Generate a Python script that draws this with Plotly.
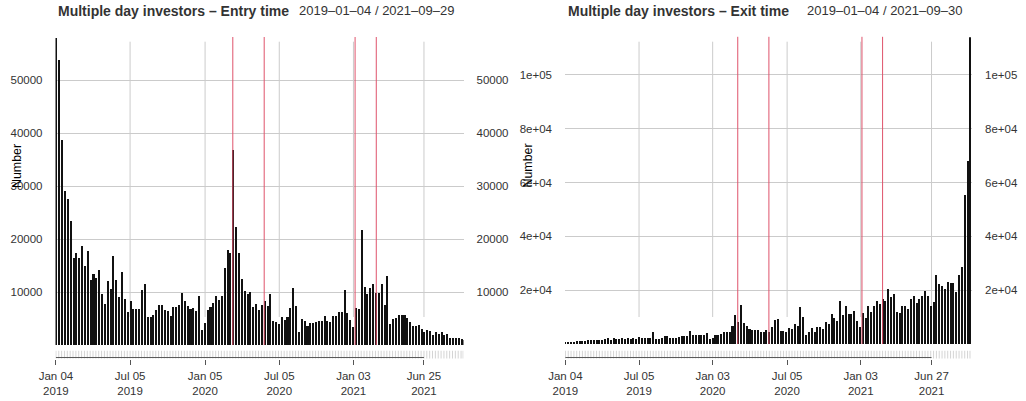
import pandas as pd
import plotly.graph_objects as go

W, H = 1026, 401

# ---------------- data ----------------
entry_dates = list(pd.date_range("2019-01-04", periods=143, freq="7D")) + [pd.Timestamp("2021-09-29")]
exit_dates = list(pd.date_range("2019-01-04", periods=143, freq="7D")) + [pd.Timestamp("2021-09-30")]

entry_values = [
    58100, 54000, 38800, 29200, 27600, 23500, 16600, 17500, 16500, 18800,
    15000, 17800, 12300, 13600, 12800, 14300, 9700, 7900, 12100, 10700,
    17000, 12400, 9200, 13800, 8800, 6400, 8500, 6900, 6900, 6900,
    10400, 11600, 5300, 5300, 5800, 6700, 7700, 7700, 6700, 6600,
    5600, 7200, 7200, 7700, 9900, 8400, 7400, 6900, 7000, 6600,
    9400, 2900, 4200, 6700, 7200, 8100, 9400, 8600, 9400, 14600,
    18100, 17400, 36900, 22300, 17500, 12500, 10300, 9700, 10200, 7200,
    7800, 6700, 7600, 8500, 7500, 9800, 4700, 4500, 4000, 5400,
    4800, 5400, 7000, 10800, 7500, 2600, 5100, 4700, 3600, 4200,
    4200, 4500, 4700, 4700, 5600, 4600, 4400, 5500, 5500, 6300,
    6300, 10400, 6100, 4800, 3500, 7000, 6900, 21800, 11100, 9700,
    10900, 11600, 9900, 10000, 11600, 7600, 13200, 4100, 5000, 5200,
    5700, 5700, 5700, 5200, 4500, 3600, 3600, 3900, 3100, 2600,
    2900, 2800, 1900, 2600, 2100, 2600, 2000, 2200, 1500, 1500,
    1400, 1400, 1200, 1000,
]

exit_values = [
    300, 500, 650, 800, 950, 1050, 1100, 1150, 1200, 1250,
    1300, 1350, 1450, 1550, 1600, 2100, 1350, 2000, 1850, 1850,
    1950, 1700, 1950, 1700, 2300, 1700, 2450, 2100, 2100, 2100,
    2100, 4300, 1700, 1800, 2200, 2700, 2900, 2300, 2200, 2200,
    2600, 2900, 2700, 2800, 4700, 3400, 3300, 3200, 3200, 3400,
    3900, 1800, 2200, 3300, 3400, 3700, 4300, 4500, 4500, 6400,
    10700, 8000, 14500, 7700, 6600, 5400, 5000, 5000, 5000, 4500,
    4200, 5200, 4300, 6300, 8800, 9000, 4900, 4900, 4300, 5900,
    5300, 7300, 6500, 13700, 9800, 3200, 4400, 5800, 4400, 6200,
    6200, 5300, 8000, 7300, 11000, 9500, 8300, 15900, 10700, 14000,
    11100, 11100, 12100, 8300, 6300, 11500, 9500, 14000, 11900, 14100,
    15800, 14700, 16700, 15800, 20400, 17200, 18600, 11900, 11500, 14200,
    14100, 13000, 16500, 17900, 15200, 16500, 17700, 19500, 17700, 14100,
    15400, 25400, 22200, 21500, 20400, 23000, 22500, 22500, 19400, 25400,
    28400, 55300, 68000, 114000,
]

entry_ticks = ["2019-01-04", "2019-07-05", "2020-01-05", "2020-07-05", "2021-01-03", "2021-06-25"]
exit_ticks = ["2019-01-04", "2019-07-05", "2020-01-03", "2020-07-05", "2021-01-03", "2021-06-27"]

entry_events = ["2020-03-13", "2020-05-29", "2021-01-07", "2021-02-28"]
exit_events = ["2020-03-05", "2020-05-21", "2021-01-06", "2021-02-26"]

entry_yticks = [10000, 20000, 30000, 40000, 50000]
entry_ylabels = ["10000", "20000", "30000", "40000", "50000"]
exit_yticks = [20000, 40000, 60000, 80000, 100000]
exit_ylabels = ["2e+04", "4e+04", "6e+04", "8e+04", "1e+05"]

# ---------------- style ----------------
FONT = "Liberation Sans, Arial, Helvetica, sans-serif"
GRID = "#cbcbcb"
BAR = "#111111"
RED = "#DF536B"
AXIS = "#555555"
TXT = "#333333"
DAY_MS = 86400000


def fx(p):
    return p / W


def fy(p):
    return 1 - p / H


fig = go.Figure()
shapes = []
annotations = []

panels = [
    dict(dates=entry_dates, values=entry_values, ticks=entry_ticks, events=entry_events,
         yt=entry_yticks, yl=entry_ylabels, x0=55.5, x1=463.5, top=37.5, bot=345.0,
         rng=["2019-01-03", "2021-09-30"], xa="x", xs="x3", ya="y", yr="y2", ys="y3",
         title="Multiple day investors – Entry time", ylab_x=17),
    dict(dates=exit_dates, values=exit_values, ticks=exit_ticks, events=exit_events,
         yt=exit_yticks, yl=exit_ylabels, x0=565.0, x1=972.0, top=37.3, bot=344.0,
         rng=["2019-01-03", "2021-10-05"], xa="x2", xs="x4", ya="y4", yr="y5", ys="y6",
         title="Multiple day investors – Exit time", ylab_x=527.5),
]

layout_axes = {}

for p in panels:
    dates, vals = p["dates"], p["values"]
    ymax = max(vals)
    tick_dates = pd.to_datetime(p["ticks"])
    tick_text = [d.strftime("%b %d") + "<br>" + d.strftime("%Y") for d in tick_dates]

    # bars
    fig.add_trace(go.Bar(x=dates, y=vals, width=5 * DAY_MS, marker_color=BAR,
                         marker_line_width=0, xaxis=p["xa"], yaxis=p["ya"],
                         showlegend=False, hoverinfo="skip"))
    # invisible trace so right-hand y axis is drawn
    fig.add_trace(go.Scatter(x=[dates[0]], y=[vals[0]], mode="markers",
                             marker=dict(opacity=0), xaxis=p["xa"], yaxis=p["yr"],
                             showlegend=False, hoverinfo="skip"))
    # minor tick strip at each observation
    fig.add_trace(go.Scatter(x=dates, y=[0.32] * len(dates), mode="markers",
                             marker=dict(symbol="line-ns", size=6,
                                         line=dict(color="#d4d4d4", width=1)),
                             xaxis=p["xs"], yaxis=p["ys"], showlegend=False,
                             hoverinfo="skip"))
    # axis line from first to last tick
    fig.add_trace(go.Scatter(x=[tick_dates[0], tick_dates[-1]], y=[0, 0], mode="lines",
                             line=dict(color=AXIS, width=1), xaxis=p["xs"],
                             yaxis=p["ys"], showlegend=False, hoverinfo="skip"))

    xa_key = "xaxis" + p["xa"][1:]
    xs_key = "xaxis" + p["xs"][1:]
    ya_key = "yaxis" + p["ya"][1:]
    yr_key = "yaxis" + p["yr"][1:]
    ys_key = "yaxis" + p["ys"][1:]
    dom_x = [fx(p["x0"]), fx(p["x1"])]
    dom_y = [fy(p["bot"]), fy(p["top"])]

    layout_axes[xa_key] = dict(domain=dom_x, range=p["rng"], type="date", anchor=p["ya"],
                               showgrid=False, showticklabels=False, ticks="",
                               zeroline=False, showline=False, automargin=False)
    layout_axes[ya_key] = dict(domain=dom_y, range=[0, ymax], anchor=p["xa"],
                               tickvals=p["yt"], ticktext=p["yl"], showgrid=True,
                               gridcolor=GRID, gridwidth=1, ticks="",
                               ticklabelstandoff=12, zeroline=False, showline=False,
                               automargin=False,
                               tickfont=dict(family=FONT, size=11.5, color=TXT))
    layout_axes[yr_key] = dict(overlaying=p["ya"], side="right", anchor=p["xa"],
                               range=[0, ymax], tickvals=p["yt"], ticktext=p["yl"],
                               showgrid=False, ticks="", ticklabelstandoff=12,
                               zeroline=False, showline=False, automargin=False,
                               tickfont=dict(family=FONT, size=11.5, color=TXT))
    layout_axes[xs_key] = dict(domain=dom_x, range=p["rng"], type="date", anchor=p["ys"],
                               tickvals=list(tick_dates), ticktext=tick_text,
                               ticks="outside", ticklen=5, tickcolor=AXIS, tickwidth=1,
                               ticklabelstandoff=2,
                               showgrid=False, zeroline=False, showline=False,
                               automargin=False,
                               tickfont=dict(family=FONT, size=11.5, color=TXT))
    layout_axes[ys_key] = dict(domain=[fy(358.5), fy(349.5)], range=[-0.12, 1],
                               anchor=p["xs"], visible=False, automargin=False)

    # vertical grid lines (not at the first tick)
    for d in tick_dates[1:]:
        shapes.append(dict(type="line", xref=p["xa"], yref="paper", x0=d, x1=d,
                           y0=fy(317), y1=fy(41.7), layer="below",
                           line=dict(color=GRID, width=1)))
    # event lines
    for e in p["events"]:
        shapes.append(dict(type="line", xref=p["xa"], yref="paper", x0=e, x1=e,
                           y0=fy(p["bot"]), y1=fy(p["top"] - 0.5), layer="above",
                           line=dict(color=RED, width=1)))

    # titles
    annotations.append(dict(text="<b>" + p["title"] + "</b>", xref="paper", yref="paper",
                            x=fx(p["x0"] + 0.5), y=fy(11), xanchor="left",
                            yanchor="middle", showarrow=False,
                            font=dict(family=FONT, size=14, color=TXT)))
    rng_txt = (dates[0].strftime("%Y-%m-%d") + " / " + dates[-1].strftime("%Y-%m-%d")).replace("-", "–")
    annotations.append(dict(text=rng_txt, xref="paper", yref="paper",
                            x=fx(p["x1"] - 8), y=fy(11), xanchor="right",
                            yanchor="middle", showarrow=False,
                            font=dict(family=FONT, size=13, color=TXT)))
    annotations.append(dict(text="Number", xref="paper", yref="paper",
                            x=fx(p["ylab_x"]), y=fy(166), xanchor="center",
                            yanchor="middle", textangle=-90, showarrow=False,
                            font=dict(family=FONT, size=12.4, color="#000000")))

fig.update_layout(
    width=W, height=H, margin=dict(l=0, r=0, t=0, b=0, autoexpand=False),
    paper_bgcolor="white", plot_bgcolor="white",
    bargap=0, showlegend=False, shapes=shapes, annotations=annotations,
    font=dict(family=FONT, color=TXT),
    **layout_axes,
)

fig.write_html("out.html", config={"displayModeBar": False},
               post_script="document.body.style.margin='0';document.body.style.overflow='hidden';")
